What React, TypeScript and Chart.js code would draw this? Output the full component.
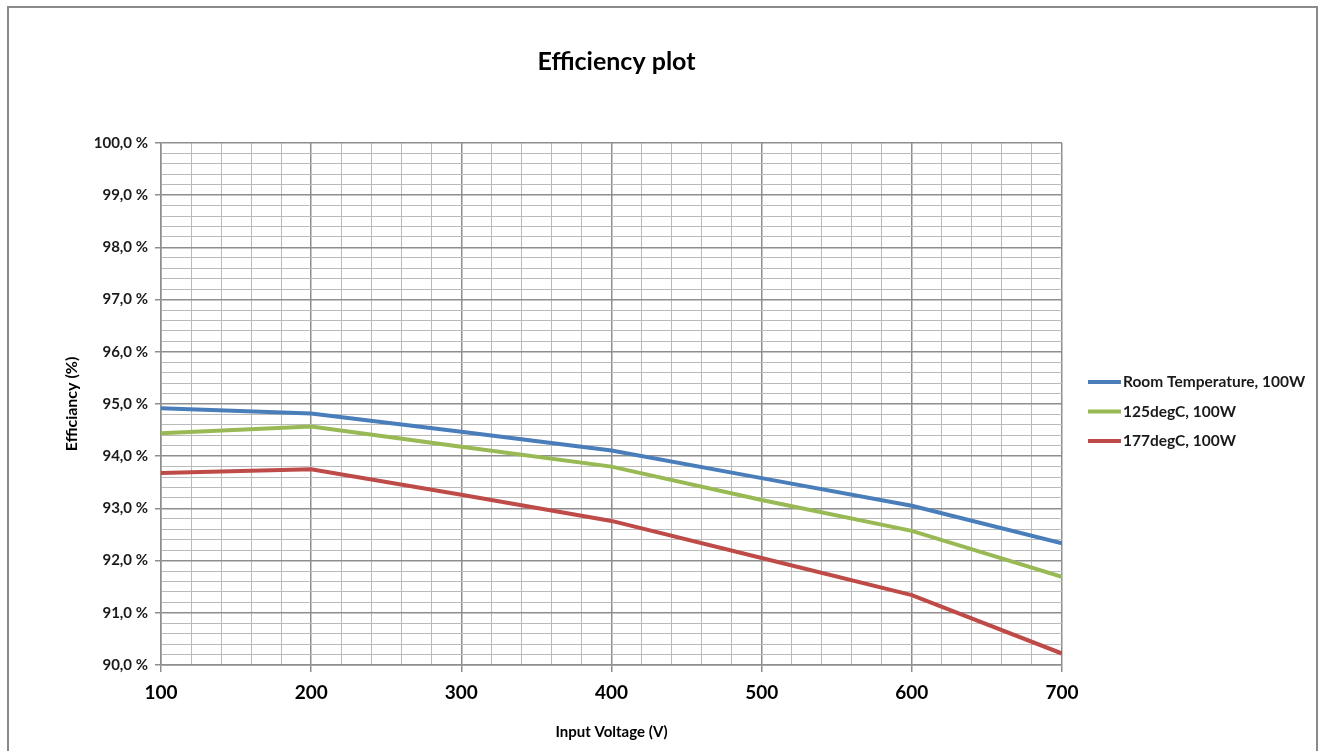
import React, { useEffect, useRef } from "react";
import { Chart, registerables } from "chart.js";

Chart.register(...registerables);

const voltages = [100, 200, 300, 400, 500, 600, 700];
const roomTemp = [94.92, 94.82, 94.47, 94.11, 93.58, 93.05, 92.33];
const deg125 = [94.44, 94.57, 94.18, 93.8, 93.16, 92.57, 91.69];
const deg177 = [93.68, 93.75, 93.26, 92.76, 92.05, 91.34, 90.22];
const seriesLabels = ["Room Temperature, 100W", "125degC, 100W", "177degC, 100W"];
const seriesColors = ["#4a7ebb", "#98b954", "#be4b48"];
const chartTitle = "Efficiency plot";
const xTitle = "Input Voltage (V)";
const yTitle = "Efficiancy (%)";

const FONT = "Lato, 'Open Sans', sans-serif";
const MAJOR = "#8e8e8e";
const MINOR = "#bababa";

const isWhole = (v: number, step: number) => Math.abs(v / step - Math.round(v / step)) < 1e-6;

const titleAndLegendPlugin = {
  id: "titleAndLegend",
  afterDraw(chart: any) {
    const { ctx, chartArea } = chart;
    ctx.save();
    // title centred over the plot area
    ctx.fillStyle = "#000";
    ctx.font = `bold 25px ${FONT}`;
    ctx.textAlign = "center";
    ctx.textBaseline = "middle";
    ctx.fillText(chartTitle, (chartArea.left + chartArea.right) / 2 + 5, 62);

    // legend on the right
    const x0 = chartArea.right + 26;
    const yc = (chartArea.top + chartArea.bottom) / 2 + 7.5;
    const rowH = 29.5;
    chart.data.datasets.forEach((ds: any, i: number) => {
      const y = yc + (i - 1) * rowH;
      ctx.strokeStyle = ds.borderColor;
      ctx.lineWidth = 4;
      ctx.beginPath();
      ctx.moveTo(x0, y);
      ctx.lineTo(x0 + 33, y);
      ctx.stroke();
      ctx.fillStyle = "#1a1a1a";
      ctx.font = `bold 15.5px ${FONT}`;
      ctx.textBaseline = "middle";
      ctx.textAlign = "left";
      ctx.fillText(ds.label, x0 + 35, y);
    });
    ctx.restore();
  },
};

export default function App() {
  const canvasRef = useRef<HTMLCanvasElement | null>(null);

  useEffect(() => {
    if (!canvasRef.current) return;
    const series = [roomTemp, deg125, deg177];
    const chart = new Chart(canvasRef.current, {
      type: "line",
      data: {
        datasets: series.map((vals, i) => ({
          label: seriesLabels[i],
          data: voltages.map((v, j) => ({ x: v, y: vals[j] })),
          borderColor: seriesColors[i],
          backgroundColor: seriesColors[i],
          borderWidth: 4,
          pointRadius: 0,
          tension: 0,
        })),
      },
      options: {
        responsive: false,
        animation: false,
        layout: { padding: { left: 0, right: 262, top: 143, bottom: 0 } },
        plugins: {
          legend: { display: false },
          tooltip: { enabled: false },
          title: { display: false },
        },
        scales: {
          x: {
            type: "linear",
            min: 100,
            max: 700,
            afterFit: (s: any) => {
              s.height = 86;
            },
            ticks: {
              stepSize: 20,
              autoSkip: false,
              maxRotation: 0,
              padding: 9,
              color: "#000",
              font: { family: FONT, size: 19, weight: "bold" },
              callback: (v: any) => (isWhole(Number(v), 100) ? String(v) : ""),
            },
            grid: {
              color: (c: any) => (isWhole(c.tick.value, 100) ? MAJOR : MINOR),
              lineWidth: (c: any) => (isWhole(c.tick.value, 100) ? 1.5 : 1),
              tickLength: 7,
              tickColor: (c: any) => (isWhole(c.tick.value, 100) ? MAJOR : "rgba(0,0,0,0)"),
            },
            border: { color: MAJOR, width: 1.5 },
            title: {
              display: true,
              text: xTitle,
              color: "#000",
              font: { family: FONT, size: 15, weight: "bold" },
              padding: { top: 0, bottom: 10 },
            },
          },
          y: {
            type: "linear",
            min: 90,
            max: 100,
            afterFit: (s: any) => {
              s.width = 161;
            },
            ticks: {
              stepSize: 0.2,
              autoSkip: false,
              padding: 7,
              color: "#1a1a1a",
              font: { family: FONT, size: 15, weight: "bold" },
              callback: (v: any) =>
                isWhole(Number(v), 1) ? Number(v).toFixed(1).replace(".", ",") + " %" : "",
            },
            grid: {
              color: (c: any) => (isWhole(c.tick.value, 1) ? MAJOR : MINOR),
              lineWidth: (c: any) => (isWhole(c.tick.value, 1) ? 1.5 : 1),
              tickLength: 6,
              tickColor: (c: any) => (isWhole(c.tick.value, 1) ? MAJOR : "rgba(0,0,0,0)"),
            },
            border: { color: MAJOR, width: 1.5 },
            title: {
              display: true,
              text: yTitle,
              color: "#000",
              font: { family: FONT, size: 16, weight: "bold" },
              padding: { top: 62, bottom: 0 },
            },
          },
        },
      },
      plugins: [titleAndLegendPlugin],
    });
    return () => chart.destroy();
  }, []);

  return (
    <div
      style={{
        position: "absolute",
        left: 0,
        top: 0,
        width: 1324,
        height: 751,
        overflow: "hidden",
        background: "#fff",
      }}
    >
      <canvas
        ref={canvasRef}
        width={1324}
        height={751}
        style={{ position: "absolute", left: 0, top: 0, width: 1324, height: 751 }}
      />
      <div
        style={{
          position: "absolute",
          left: 7,
          top: 6,
          width: 1307,
          height: 770,
          border: "2px solid #8a8a8a",
          pointerEvents: "none",
        }}
      />
    </div>
  );
}
